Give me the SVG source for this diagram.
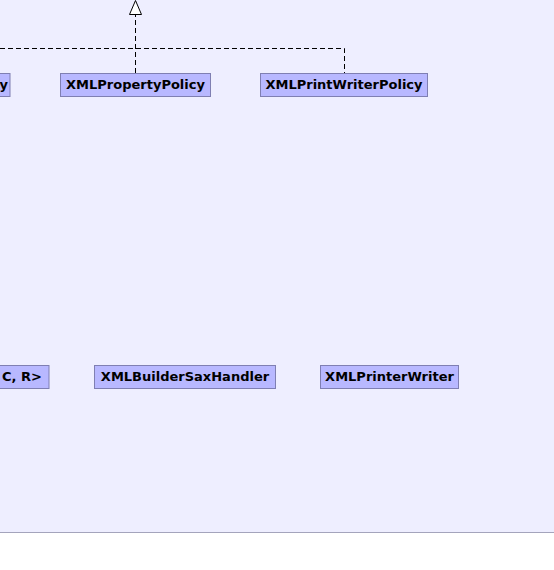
<svg xmlns="http://www.w3.org/2000/svg" width="554" height="570" viewBox="0 0 554 570">
<style>
.bg{fill:#eeeeff}
.node rect{fill:#b8b8ff;stroke:#7f7fb2;stroke-width:1}
.node text{font-family:"DejaVu Sans",sans-serif;font-weight:bold;font-size:13px;fill:#000}
.edge{fill:none;stroke:#000;stroke-width:1;stroke-dasharray:5,3}
.head{fill:#fff;stroke:#000;stroke-width:1}
</style>
<rect class="bg" x="0" y="0" width="554" height="532"/>
<line x1="0" y1="532.5" x2="554" y2="532.5" stroke="#a4a4bc" stroke-width="1"/>
<g id="connectors">
<path class="edge" d="M0,48.5 H344.5 V73"/>
<path class="edge" d="M135.5,73 V14"/>
<polygon class="head" points="135.5,0.5 141.5,14.5 129.5,14.5"/>
</g>
<g id="node-left-policy" class="node">
<rect x="-20" y="73.5" width="30" height="23"/>
<text x="8" y="88.5" text-anchor="end">y</text>
</g>
<g id="node-XMLPropertyPolicy" class="node">
<rect x="60.5" y="73.5" width="150" height="23"/>
<text x="135.5" y="88.5" text-anchor="middle">XMLPropertyPolicy</text>
</g>
<g id="node-XMLPrintWriterPolicy" class="node">
<rect x="260.5" y="73.5" width="167" height="23"/>
<text x="344" y="88.5" text-anchor="middle">XMLPrintWriterPolicy</text>
</g>
<g id="node-left-template" class="node">
<rect x="-20" y="365.5" width="69" height="23"/>
<text x="42" y="380.5" text-anchor="end">C, R&gt;</text>
</g>
<g id="node-XMLBuilderSaxHandler" class="node">
<rect x="94.5" y="365.5" width="181" height="23"/>
<text x="185" y="380.5" text-anchor="middle">XMLBuilderSaxHandler</text>
</g>
<g id="node-XMLPrinterWriter" class="node">
<rect x="320.5" y="365.5" width="138" height="23"/>
<text x="389.5" y="380.5" text-anchor="middle">XMLPrinterWriter</text>
</g>
</svg>
